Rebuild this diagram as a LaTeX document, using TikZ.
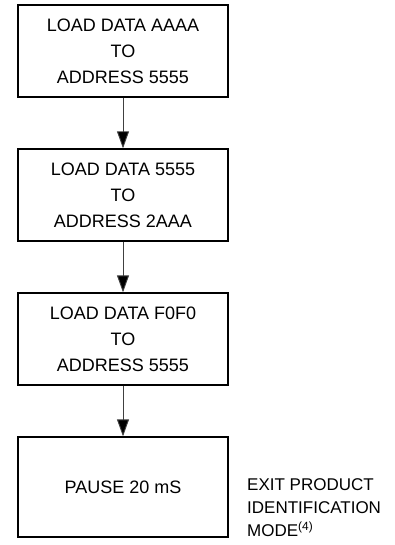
\documentclass[tikz,border=0pt]{standalone}
\usepackage{fontspec}
\setmainfont{Liberation Sans}
\usetikzlibrary{arrows.meta}
\begin{document}
\begin{tikzpicture}[x=1pt,y=-1pt,
  stepbox/.style={draw=black,line width=1.3pt,minimum width=210pt,inner sep=0pt,align=center,
    font=\fontsize{18}{26}\selectfont},
  conn/.style={draw=black!75,line width=0.9pt,-{Triangle[length=17pt,width=12pt,fill=black]}},
  note/.style={anchor=west,align=left,inner sep=0pt,font=\fontsize{17}{23}\selectfont}]
\useasboundingbox (0,0) rectangle (395,545);
\node[stepbox,minimum height=92pt] (b1) at (123,51) {LOAD DATA AAAA\\TO\\ADDRESS 5555};
\node[stepbox,minimum height=92pt] (b2) at (123,195) {LOAD DATA 5555\\TO\\ADDRESS 2AAA};
\node[stepbox,minimum height=92pt] (b3) at (123,339) {LOAD DATA F0F0\\TO\\ADDRESS 5555};
\node[stepbox,minimum height=100pt] (b4) at (123,487) {PAUSE 20 mS};
\node[note] (n) at (247,508) {EXIT PRODUCT\\IDENTIFICATION\\MODE\textsuperscript{(4)}};
\draw[conn] (b1) -- (b2);
\draw[conn] (b2) -- (b3);
\draw[conn] (b3) -- (b4);
\end{tikzpicture}
\end{document}
